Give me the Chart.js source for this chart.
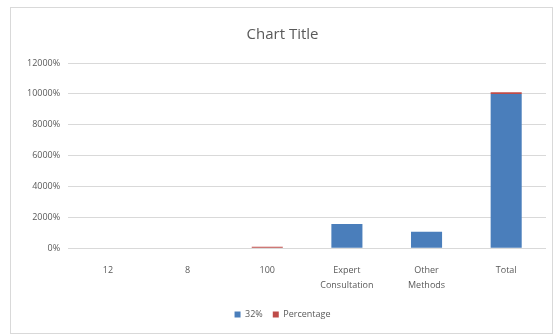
<!DOCTYPE html>
<html lang="en">
<head>
    <meta charset="UTF-8">
    <title>Chart Title</title>
    <script src="https://cdn.jsdelivr.net/npm/chart.js"></script>
    <style>
        body { margin: 0; background: #fff; }
        .frame { position: absolute; left: 10px; top: 7px; width: 541px; height: 325px; border: 1px solid #d9d9d9; }
    </style>
</head>
<body>
    <div class="frame">
        <canvas id="chart" width="541" height="325"></canvas>
    </div>

    <script>
        // data (values in "percent units": 100 -> 10000%)
        const categories = ['12', '8', '100', ['Expert', 'Consultation'], ['Other', 'Methods'], 'Total'];
        const series32 = [0, 0, 0, 15.8, 10.7, 100];
        const seriesPercentage = [0, 0, 1, 0, 0, 1];
        const yTicks = [0, 20, 40, 60, 80, 100, 120];

        const ctx = document.getElementById('chart').getContext('2d');
        new Chart(ctx, {
            type: 'bar',
            data: {
                labels: categories,
                datasets: [{
                    label: '32%',
                    data: series32,
                    backgroundColor: '#4a7ebb'
                }, {
                    label: 'Percentage',
                    data: seriesPercentage,
                    backgroundColor: '#be4b48'
                }]
            },
            options: {
                responsive: false,
                animation: false,
                categoryPercentage: 1,
                barPercentage: 0.39,
                layout: { padding: { left: 8, right: 6, top: 2, bottom: 4 } },
                plugins: {
                    title: {
                        display: true,
                        text: 'Chart Title',
                        color: '#595959',
                        font: { family: 'Open Sans', size: 15, weight: 'normal' },
                        padding: { top: 16, bottom: 19 }
                    },
                    legend: {
                        position: 'bottom',
                        labels: {
                            color: '#595959',
                            font: { family: 'Open Sans', size: 9 },
                            boxWidth: 6,
                            boxHeight: 6,
                            padding: 10
                        }
                    },
                    tooltip: { enabled: false }
                },
                scales: {
                    x: {
                        stacked: true,
                        grid: { display: false },
                        border: { display: false },
                        ticks: {
                            color: '#595959',
                            font: { family: 'Open Sans', size: 9, lineHeight: 1.65 },
                            padding: 7,
                            maxRotation: 0
                        }
                    },
                    y: {
                        stacked: true,
                        min: 0,
                        max: 120,
                        afterBuildTicks: axis => { axis.ticks = yTicks.map(v => ({ value: v })); },
                        grid: { color: '#d9d9d9', drawTicks: false },
                        border: { display: false },
                        ticks: {
                            color: '#595959',
                            font: { family: 'Open Sans', size: 9 },
                            padding: 8,
                            callback: v => (v * 100) + '%'
                        }
                    }
                }
            }
        });
    </script>
</body>
</html>
